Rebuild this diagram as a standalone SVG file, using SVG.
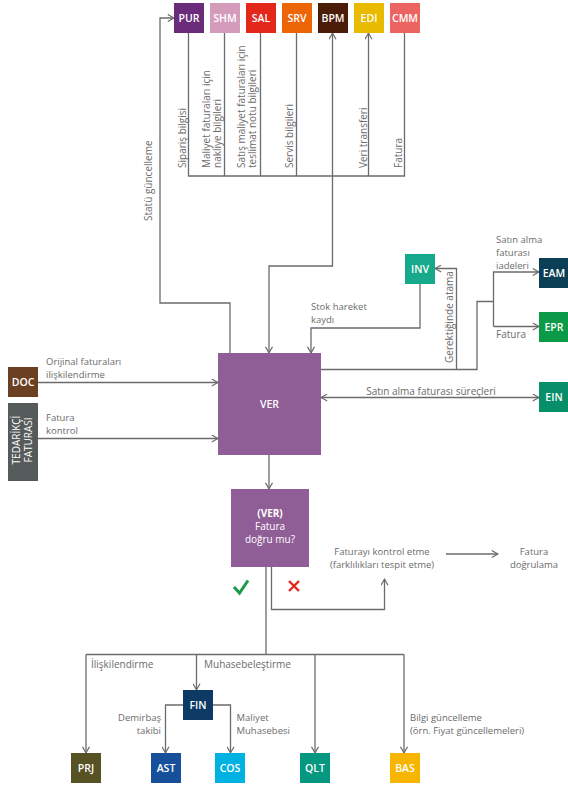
<svg xmlns="http://www.w3.org/2000/svg" width="568" height="786" viewBox="0 0 568 786">
<defs>
<marker id="ar" viewBox="0 0 8 8" refX="7.2" refY="4" markerWidth="8" markerHeight="8" markerUnits="userSpaceOnUse" orient="auto-start-reverse">
<path d="M1,0.5 L7,4 L1,7.5" fill="none" stroke="#6b6b6b" stroke-width="1.2"/>
</marker>
<style>
.c{fill:none;stroke:#6b6b6b;stroke-width:1.3}
.a{marker-end:url(#ar)}
.t{font-family:"Open Sans","Liberation Sans",sans-serif;font-size:10px;fill:#6b6b6b}
.s{font-size:9.5px}
.m{text-anchor:middle}
.e{text-anchor:end}
.n{font-family:"Open Sans","Liberation Sans",sans-serif;font-size:10.5px;font-weight:600;fill:#fff;text-anchor:middle}
.w{font-family:"Open Sans","Liberation Sans",sans-serif;font-size:10px;fill:#fff;text-anchor:middle}
</style>
</defs>
<rect width="568" height="786" fill="#fff"/>
<g id="connectors">
<path class="c a" d="M230,353 V303 H160 V18 H174"/>
<path class="c" d="M188.5,33 V176 H404.5 V33 M224.5,33 V176 M260.5,33 V176 M296.5,33 V176"/>
<path class="c a" d="M332.5,176 V33"/>
<path class="c a" d="M368.5,176 V33"/>
<path class="c a" d="M332.5,176 V266 H269 V353"/>
<path class="c a" d="M420,284 V328 H311 V353"/>
<path class="c" d="M321,369.5 H477 V301.5 H493.5 M493.5,271.5 V326.5"/>
<path class="c a" d="M493.5,272 H539"/>
<path class="c a" d="M493.5,326.5 H539"/>
<path class="c a" d="M456.5,369.5 V268.5 H435"/>
<path class="c a" d="M321,397.5 H539" marker-start="url(#ar)"/>
<path class="c a" d="M38,382.5 H218"/>
<path class="c a" d="M38,438.5 H218"/>
<path class="c a" d="M269,455 V489"/>
<path class="c" d="M266,567 V654.5"/>
<path class="c a" d="M271.5,567 V609.5 H384.5 V579"/>
<path class="c a" d="M446,554 H498"/>
<path class="c" d="M86,654.5 H404"/>
<path class="c a" d="M86,654.5 V753"/>
<path class="c a" d="M196.5,654.5 V690"/>
<path class="c a" d="M315,654.5 V753"/>
<path class="c a" d="M404,654.5 V753"/>
<path class="c a" d="M183,705 H165.5 V753"/>
<path class="c a" d="M213,705 H230.5 V753"/>
</g>
<g id="labels">
<text class="t" transform="translate(152,221) rotate(-90)">Statü güncelleme</text>
<text class="t" transform="translate(186,168) rotate(-90)">Sipariş bilgisi</text>
<text class="t" transform="translate(209.5,168) rotate(-90)"><tspan x="0" y="0">Maliyet faturaları için</tspan><tspan x="0" dy="11.5">nakliye bilgileri</tspan></text>
<text class="t" transform="translate(244.5,168) rotate(-90)"><tspan x="0" y="0">Satış maliyet faturaları için</tspan><tspan x="0" dy="11.5">teslimat notu bilgileri</tspan></text>
<text class="t" transform="translate(292.5,168) rotate(-90)">Servis bilgileri</text>
<text class="t" transform="translate(366.5,168) rotate(-90)">Veri transferi</text>
<text class="t" transform="translate(401.5,168) rotate(-90)">Fatura</text>
<text class="t" transform="translate(452.5,363) rotate(-90)">Gerektiğinde atama</text>
<text class="t s"><tspan x="311" y="310">Stok hareket</tspan><tspan x="311" dy="13">kaydı</tspan></text>
<text class="t s"><tspan x="496" y="242.5">Satın alma</tspan><tspan x="496" dy="13">faturası</tspan><tspan x="496" dy="13">iadeleri</tspan></text>
<text class="t" x="496" y="338">Fatura</text>
<text class="t m" x="431" y="394.5">Satın alma faturası süreçleri</text>
<text class="t s"><tspan x="46" y="365">Orijinal faturaları</tspan><tspan x="46" dy="13">ilişkilendirme</tspan></text>
<text class="t s"><tspan x="46" y="421">Fatura</tspan><tspan x="46" dy="13">kontrol</tspan></text>
<text class="t s m"><tspan x="382" y="554.5">Faturayı kontrol etme</tspan><tspan x="382" dy="13">(farklılıkları tespit etme)</tspan></text>
<text class="t s m"><tspan x="534" y="554.5">Fatura</tspan><tspan x="534" dy="13">doğrulama</tspan></text>
<text class="t" x="91" y="667.5">İlişkilendirme</text>
<text class="t" x="204" y="667.5">Muhasebeleştirme</text>
<text class="t s e"><tspan x="161" y="720.5">Demirbaş</tspan><tspan x="161" dy="13">takibi</tspan></text>
<text class="t s"><tspan x="236.5" y="720.5">Maliyet</tspan><tspan x="236.5" dy="13">Muhasebesi</tspan></text>
<text class="t s"><tspan x="410" y="720.5">Bilgi güncelleme</tspan><tspan x="410" dy="13">(örn. Fiyat güncellemeleri)</tspan></text>
<path d="M234,587 L239.5,593 L248,580.5" fill="none" stroke="#1a9a4a" stroke-width="3"/>
<path d="M289,581 L299,591 M299,581 L289,591" fill="none" stroke="#e3281b" stroke-width="2.4"/>
</g>
<g id="PUR"><rect x="174" y="3" width="30" height="30" fill="#6a2c7a"/><text class="n" x="189" y="22">PUR</text></g>
<g id="SHM"><rect x="210" y="3" width="30" height="30" fill="#d59bbb"/><text class="n" x="225" y="22">SHM</text></g>
<g id="SAL"><rect x="246" y="3" width="30" height="30" fill="#e3281b"/><text class="n" x="261" y="22">SAL</text></g>
<g id="SRV"><rect x="282" y="3" width="30" height="30" fill="#ec6608"/><text class="n" x="297" y="22">SRV</text></g>
<g id="BPM"><rect x="318" y="3" width="30" height="30" fill="#4b1d08"/><text class="n" x="333" y="22">BPM</text></g>
<g id="EDI"><rect x="354" y="3" width="30" height="30" fill="#e8bb00"/><text class="n" x="369" y="22">EDI</text></g>
<g id="CMM"><rect x="390" y="3" width="30" height="30" fill="#ec6462"/><text class="n" x="405" y="22">CMM</text></g>
<g id="INV"><rect x="405" y="254" width="30" height="30" fill="#16a98b"/><text class="n" x="420" y="273">INV</text></g>
<g id="EAM"><rect x="539" y="258" width="30" height="30" fill="#0b3f55"/><text class="n" x="554" y="277">EAM</text></g>
<g id="EPR"><rect x="539" y="312" width="30" height="30" fill="#0b9b48"/><text class="n" x="554" y="331">EPR</text></g>
<g id="EIN"><rect x="539" y="382" width="30" height="30" fill="#068f69"/><text class="n" x="554" y="401">EIN</text></g>
<g id="DOC"><rect x="8" y="367" width="30" height="30" fill="#6b3f22"/><text class="n" x="23" y="386">DOC</text></g>
<g id="TED"><rect x="8" y="403" width="30" height="78" fill="#555a5a"/><text class="w" transform="translate(20,440) rotate(-90)"><tspan x="0" y="0">TEDARİKÇİ</tspan><tspan x="0" dy="12">FATURASI</tspan></text></g>
<g id="VER"><rect x="218" y="353" width="103" height="102" fill="#8f5e96"/><text class="n" x="269.5" y="408">VER</text></g>
<g id="VER2"><rect x="231" y="489" width="78" height="78" fill="#8f5e96"/><text class="w s"><tspan x="270" y="516.5" font-weight="700">(VER)</tspan><tspan x="270" dy="13">Fatura</tspan><tspan x="270" dy="13">doğru mu?</tspan></text></g>
<g id="FIN"><rect x="183" y="690" width="30" height="30" fill="#0d3a64"/><text class="n" x="198" y="709">FIN</text></g>
<g id="PRJ"><rect x="71" y="753" width="30" height="30" fill="#565223"/><text class="n" x="86" y="772">PRJ</text></g>
<g id="AST"><rect x="151" y="753" width="30" height="30" fill="#16509a"/><text class="n" x="166" y="772">AST</text></g>
<g id="COS"><rect x="215" y="753" width="30" height="30" fill="#00b2e2"/><text class="n" x="230" y="772">COS</text></g>
<g id="QLT"><rect x="300" y="753" width="30" height="30" fill="#059780"/><text class="n" x="315" y="772">QLT</text></g>
<g id="BAS"><rect x="390" y="753" width="30" height="30" fill="#f7b500"/><text class="n" x="405" y="772">BAS</text></g>
</svg>
